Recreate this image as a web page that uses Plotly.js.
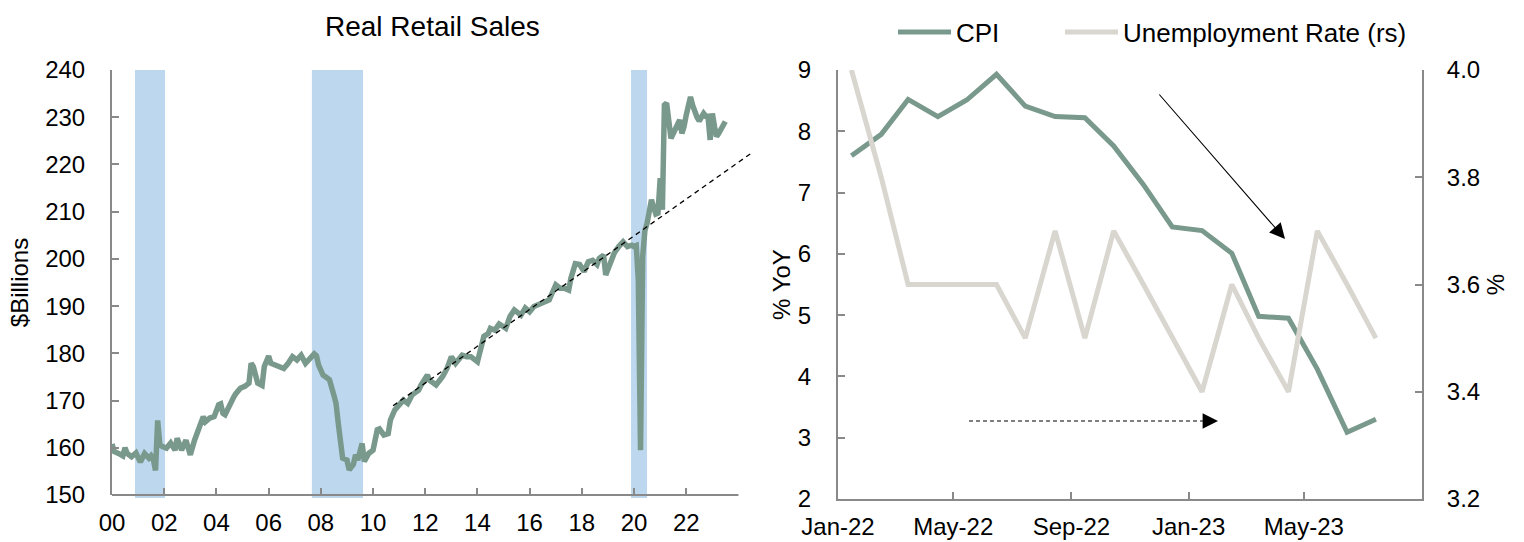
<!DOCTYPE html>
<html>
<head>
<meta charset="utf-8">
<script src="https://cdn.plot.ly/plotly-3.0.1.min.js"></script>
<style>
html,body{margin:0;padding:0;background:#fff;}
#chart{width:1524px;height:542px;}
</style>
</head>
<body>
<div id="chart"></div>
<script>
// ---------- Left panel: Real Retail Sales ($Billions) ----------
const rsDates = ['2000-01','2000-02','2000-04','2000-06','2000-07','2000-08','2000-10','2000-12',
'2001-02','2001-04','2001-06','2001-07','2001-08','2001-09','2001-10','2001-11','2001-12',
'2002-02','2002-04','2002-06','2002-07','2002-09','2002-11',
'2003-01','2003-03','2003-05','2003-07','2003-08','2003-10','2003-12',
'2004-02','2004-03','2004-04','2004-05','2004-07','2004-09','2004-10','2004-12',
'2005-02','2005-04','2005-05','2005-06','2005-08','2005-10','2005-11',
'2006-01','2006-02','2006-05','2006-08','2006-10','2006-12',
'2007-02','2007-04','2007-06','2007-08','2007-10','2007-11','2007-12',
'2008-02','2008-04','2008-05','2008-07','2008-08','2008-09','2008-10','2008-11',
'2009-01','2009-02','2009-04','2009-05','2009-06','2009-08','2009-09','2009-11',
'2010-01','2010-03','2010-04','2010-06','2010-08','2010-09','2010-11',
'2011-01','2011-03','2011-05','2011-07','2011-10','2011-11',
'2012-02','2012-03','2012-06','2012-09','2012-11',
'2013-01','2013-03','2013-06','2013-08','2013-10',
'2014-01','2014-03','2014-04','2014-06','2014-07','2014-09','2014-11',
'2015-02','2015-04','2015-06','2015-09','2015-11',
'2016-01','2016-03','2016-06','2016-08','2016-10','2016-11',
'2017-01','2017-03','2017-05','2017-07','2017-08','2017-10','2017-12',
'2018-02','2018-04','2018-06','2018-08','2018-09','2018-11','2018-12',
'2019-02','2019-04','2019-06','2019-08','2019-10','2019-12',
'2020-01','2020-02','2020-03','2020-04','2020-05','2020-06','2020-07','2020-08','2020-09','2020-10','2020-11','2020-12',
'2021-01','2021-02','2021-03','2021-04','2021-05','2021-06','2021-07','2021-08','2021-09','2021-10','2021-11','2021-12',
'2022-01','2022-02','2022-03','2022-04','2022-05','2022-06','2022-07','2022-08','2022-09','2022-10','2022-11','2022-12',
'2023-01','2023-02','2023-03','2023-04','2023-05','2023-06','2023-07'];
const rsValues = [160.8,159.2,158.8,158.3,160.0,158.8,158.1,158.9,
157.0,158.8,157.8,158.3,157.6,155.2,165.8,160.6,160.3,
159.9,161.0,159.5,162.0,159.5,161.6,
158.5,161.6,163.8,166.6,165.5,166.3,166.6,
169.1,169.3,167.3,167.0,169.1,170.8,171.5,172.6,
173.0,173.7,177.9,177.2,173.7,173.2,177.2,
179.4,177.9,177.3,176.8,177.9,179.3,
178.6,179.6,177.9,178.9,179.9,179.5,177.5,
175.4,174.7,174.4,171.2,169.4,165.2,160.9,157.8,
157.4,155.3,156.5,158.5,157.4,160.9,157.1,158.8,
159.5,163.8,164.0,162.7,163.0,165.9,168.0,
169.1,170.1,169.4,171.2,172.2,173.2,
175.4,174.3,173.3,175.1,176.8,
179.3,177.9,179.6,179.3,179.3,
178.2,181.8,183.6,184.2,185.3,184.9,186.2,
185.3,187.8,189.2,188.1,189.6,
188.8,189.9,190.6,191.0,191.3,192.4,
194.5,193.8,193.8,193.4,195.9,199.0,198.8,
197.3,199.4,199.7,198.8,200.1,200.8,196.6,
199.1,201.3,202.6,203.6,202.6,202.9,
202.6,202.8,195.5,159.5,200.5,206.0,207.5,209.7,212.5,211.0,209.5,209.7,
217.1,210.4,232.6,233.0,230.2,225.5,226.5,227.3,228.5,229.4,226.6,228.0,
230.5,232.0,234.3,232.5,230.8,230.0,229.2,230.0,230.8,230.2,230.2,225.2,
230.8,228.0,225.9,226.6,227.5,228.0,229.1];

// pre-pandemic trend (dashed)
const trendDates = ['2010-10-08','2024-07-01'];
const trendValues = [168.9, 222.4];

// recession shading
const recStart = ['2000-11-18','2007-08-29','2019-11-20'];
const recEnd   = ['2002-01-12','2009-08-14','2020-07-01'];

const rsTickVals = ['2000-01-01','2002-01-01','2004-01-01','2006-01-01','2008-01-01','2010-01-01',
                    '2012-01-01','2014-01-01','2016-01-01','2018-01-01','2020-01-01','2022-01-01'];
const rsTickText = ['00','02','04','06','08','10','12','14','16','18','20','22'];

// ---------- Right panel: CPI vs Unemployment ----------
const monthDates = ['2022-01-15','2022-02-15','2022-03-15','2022-04-15','2022-05-15','2022-06-15',
'2022-07-15','2022-08-15','2022-09-15','2022-10-15','2022-11-15','2022-12-15',
'2023-01-15','2023-02-15','2023-03-15','2023-04-15','2023-05-15','2023-06-15','2023-07-15'];
const cpiYoY = [7.6,7.95,8.52,8.24,8.51,8.93,8.41,8.24,8.22,7.76,7.13,6.44,6.38,6.01,4.98,4.95,4.12,3.09,3.30];
const unempRate = [4.0,3.8,3.6,3.6,3.6,3.6,3.5,3.7,3.5,3.7,3.6,3.5,3.4,3.6,3.5,3.4,3.7,3.6,3.5];
const rTickVals = ['2022-01-01','2022-05-01','2022-09-01','2023-01-01','2023-05-01'];
const rTickText = ['Jan-22','May-22','Sep-22','Jan-23','May-23'];

// ---------- Styling ----------
const W = 1524, H = 542;
const fx = p => p / W;          // pixel -> paper x
const fy = p => 1 - p / H;      // pixel -> paper y
const FONT = 'Liberation Sans, Arial, sans-serif';
const GREEN = '#7A998D';
const GREY_LINE = '#D9D6D0';
const AXIS = '#898989';
const REC = '#BDD7EE';
const TICKSZ = 24;

const traces = [
  {x: rsDates, y: rsValues, xaxis:'x', yaxis:'y', type:'scatter', mode:'lines',
   line:{color:GREEN, width:5.5}, showlegend:false, hoverinfo:'x+y'},
  {x: trendDates, y: trendValues, xaxis:'x', yaxis:'y', type:'scatter', mode:'lines',
   line:{color:'#000', width:1.3, dash:'5px,4px'}, showlegend:false, hoverinfo:'skip'},
  {x: monthDates, y: cpiYoY, xaxis:'x2', yaxis:'y2', type:'scatter', mode:'lines',
   name:'CPI', legend:'legend', line:{color:GREEN, width:5}},
  {x: monthDates, y: unempRate, xaxis:'x2', yaxis:'y3', type:'scatter', mode:'lines',
   name:'Unemployment Rate (rs)', legend:'legend2', line:{color:GREY_LINE, width:5}}
];

const shapes = [];
for (let i = 0; i < recStart.length; i++) {
  shapes.push({type:'rect', xref:'x', yref:'paper', x0:recStart[i], x1:recEnd[i],
    y0:fy(498), y1:fy(70), fillcolor:REC, line:{width:0}, layer:'below'});
}
// left x-axis baseline (axis stops at 2024 while the trend runs a little further)
shapes.push({type:'line', xref:'x', yref:'paper', x0:'2000-01-01', x1:'2024-01-01',
  y0:fy(495), y1:fy(495), line:{color:AXIS, width:2}});
// dashed arrow shaft on right panel
shapes.push({type:'line', xref:'paper', yref:'paper', x0:fx(969), x1:fx(1205),
  y0:fy(421), y1:fy(421), line:{color:'#000', width:1.1, dash:'4px,3px'}});

const annotations = [
  {text:'Real Retail Sales', xref:'paper', yref:'paper', x:fx(432), y:fy(27),
   showarrow:false, font:{family:FONT, size:28, color:'#000'}, xanchor:'center', yanchor:'middle'},
  // solid arrow
  {text:'', xref:'paper', yref:'paper', x:fx(1285), y:fy(239), ax:-127, ay:-146,
   axref:'pixel', ayref:'pixel', showarrow:true, arrowhead:2, arrowsize:2.8, arrowwidth:1.1,
   arrowcolor:'#000', standoff:0},
  // dashed arrow head
  {text:'', xref:'paper', yref:'paper', x:fx(1218), y:fy(421), ax:-16, ay:0,
   axref:'pixel', ayref:'pixel', showarrow:true, arrowhead:2, arrowsize:2.8, arrowwidth:1.1,
   arrowcolor:'#000', standoff:0}
];

const yTitleFont = {family:FONT, size:24, color:'#000'};
const tickFont = {family:FONT, size:TICKSZ, color:'#000'};
const legendBase = {orientation:'h', xanchor:'left', yanchor:'middle', y:fy(32),
  font:{family:FONT, size:26, color:'#000'}, itemwidth:53, bgcolor:'rgba(0,0,0,0)'};

const layout = {
  width: W, height: H,
  margin: {l:0, r:0, t:0, b:0},
  paper_bgcolor:'#fff', plot_bgcolor:'rgba(0,0,0,0)',
  font: {family:FONT, color:'#000'},
  showlegend: true,
  legend: Object.assign({}, legendBase, {x:fx(893)}),
  legend2: Object.assign({}, legendBase, {x:fx(1060)}),
  xaxis: {domain:[fx(112), fx(752.8)], anchor:'y', type:'date',
    range:['2000-01-01','2024-07-20'], tickmode:'array', tickvals:rsTickVals, ticktext:rsTickText,
    ticks:'inside', ticklen:7, tickwidth:2, tickcolor:AXIS, showline:false, showgrid:false,
    zeroline:false, tickfont:tickFont, ticklabelstandoff:11},
  yaxis: {domain:[fy(495), fy(70)], anchor:'x', range:[150,240], dtick:10, tick0:150,
    ticks:'inside', ticklen:7, tickwidth:2, tickcolor:AXIS, showline:true, linecolor:AXIS, linewidth:2,
    showgrid:false, zeroline:false, tickfont:tickFont, ticklabelstandoff:20,
    title:{text:'$Billions', font:yTitleFont, standoff:10}},
  xaxis2: {domain:[fx(838), fx(1422)], anchor:'y2', type:'date',
    range:['2022-01-01','2023-09-01'], tickmode:'array', tickvals:rTickVals, ticktext:rTickText,
    ticks:'inside', ticklen:7, tickwidth:2, tickcolor:AXIS, showline:true, linecolor:AXIS, linewidth:2,
    showgrid:false, zeroline:false, tickfont:tickFont, ticklabelstandoff:5},
  yaxis2: {domain:[fy(499), fy(70)], anchor:'x2', range:[2,9], dtick:1, tick0:2,
    ticks:'inside', ticklen:7, tickwidth:2, tickcolor:AXIS, showline:true, linecolor:AXIS, linewidth:2,
    showgrid:false, zeroline:false, tickfont:tickFont, ticklabelstandoff:20,
    title:{text:'% YoY', font:yTitleFont, standoff:0}},
  yaxis3: {overlaying:'y2', side:'right', anchor:'x2', range:[3.2,4.0], dtick:0.2, tick0:3.2,
    tickformat:'.1f', ticks:'inside', ticklen:7, tickwidth:2, tickcolor:AXIS, showline:true,
    linecolor:AXIS, linewidth:2, showgrid:false, zeroline:false, tickfont:tickFont,
    ticklabelstandoff:18, title:{text:'%', font:yTitleFont, standoff:8}},
  shapes: shapes,
  annotations: annotations
};

Plotly.newPlot('chart', traces, layout, {displayModeBar:false, staticPlot:true});
</script>
</body>
</html>
